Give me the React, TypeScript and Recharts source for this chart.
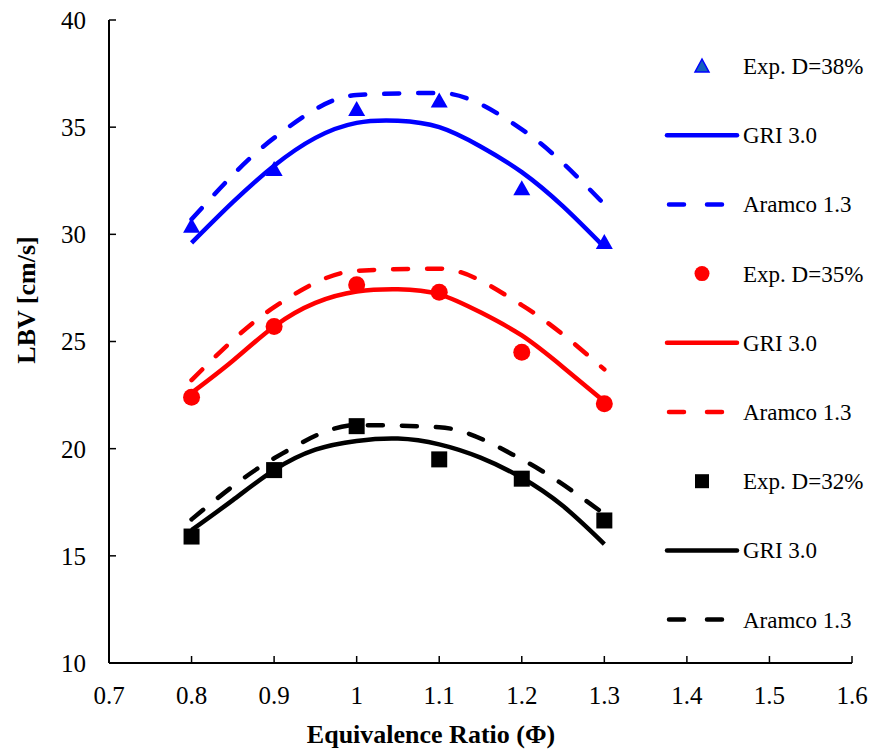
import React from "react";
import { ComposedChart, Line, Scatter, XAxis, YAxis, Legend } from "recharts";

// equivalence ratio points
const phiExp = [0.8, 0.9, 1.0, 1.1, 1.2, 1.3];
const phiGri = [0.8, 0.85, 0.9, 0.95, 1.0, 1.05, 1.1, 1.15, 1.2, 1.25, 1.3];
const phiAramco = [0.8, 0.9, 1.0, 1.1, 1.2, 1.3];

// D = 38%
const exp38 = [30.35, 33.0, 35.8, 36.2, 32.1, 29.6];
const gri38 = [29.6, 31.5, 33.2, 34.5, 35.2, 35.3, 35.0, 34.1, 32.9, 31.3, 29.4];
const aramco38 = [30.7, 34.5, 36.5, 36.6, 34.9, 31.4];

// D = 35%
const exp35 = [22.4, 25.7, 27.65, 27.3, 24.5, 22.1];
const gri35 = [22.6, 24.1, 25.7, 26.8, 27.33, 27.44, 27.2, 26.36, 25.28, 23.8, 22.2];
const aramco35 = [23.2, 26.6, 28.3, 28.4, 26.7, 23.7];

// D = 32%
const exp32 = [15.9, 19.0, 21.05, 19.5, 18.6, 16.65];
const gri32 = [16.2, 17.6, 19.0, 19.95, 20.36, 20.47, 20.2, 19.58, 18.64, 17.32, 15.55];
const aramco32 = [16.7, 19.55, 21.1, 21.0, 19.5, 16.95];

const xTicks = [0.7, 0.8, 0.9, 1.0, 1.1, 1.2, 1.3, 1.4, 1.5, 1.6];
const yTicks = [10, 15, 20, 25, 30, 35, 40];

const legendLabels = [
  "Exp. D=38%", "GRI 3.0", "Aramco 1.3",
  "Exp. D=35%", "GRI 3.0", "Aramco 1.3",
  "Exp. D=32%", "GRI 3.0", "Aramco 1.3",
];

const toPts = (xs: number[], ys: number[]) => xs.map((x, i) => ({ x, y: ys[i] }));

const FONT = "'Liberation Serif', 'Times New Roman', serif";
const BLUE = "#0000FF";
const RED = "#FF0000";
const BLACK = "#000000";
const DASH = "15 19";

const Triangle = (p: any) => (
  <polygon points={`${p.cx},${p.cy - 9} ${p.cx - 8.5},${p.cy + 6} ${p.cx + 8.5},${p.cy + 6}`} fill={BLUE} />
);
const Circle = (p: any) => <circle cx={p.cx} cy={p.cy} r={8.5} fill={RED} />;
const Square = (p: any) => <rect x={p.cx - 8} y={p.cy - 8} width={16} height={16} fill={BLACK} />;

const legendKinds = ["tri", "solid", "dash", "circle", "solid", "dash", "square", "solid", "dash"];
const legendColors = [BLUE, BLUE, BLUE, RED, RED, RED, BLACK, BLACK, BLACK];

const renderLegend = () => (
  <svg width={215} height={640}>
    {legendLabels.map((label, i) => {
      const cy = 36 + i * 69.2;
      const c = legendColors[i];
      const k = legendKinds[i];
      let mark = null;
      if (k === "tri")
        mark = <polygon points={`47,${cy - 7} 40,${cy + 6} 54,${cy + 6}`} fill="#1560BD" stroke={BLUE} strokeWidth={1.5} />;
      else if (k === "circle") mark = <circle cx={47} cy={cy} r={7.5} fill={RED} />;
      else if (k === "square") mark = <rect x={40} y={cy - 7} width={14} height={14} fill={BLACK} />;
      else if (k === "solid")
        mark = <line x1={12} x2={82} y1={cy} y2={cy} stroke={c} strokeWidth={4.5} strokeLinecap="round" />;
      else
        mark = <line x1={14} x2={72} y1={cy} y2={cy} stroke={c} strokeWidth={4.5} strokeLinecap="round" strokeDasharray="15 23" />;
      return (
        <g key={i}>
          {mark}
          <text x={88} y={cy + 8} fontFamily={FONT} fontSize={23} fill="#000">{label}</text>
        </g>
      );
    })}
  </svg>
);

export default function App() {
  const griProps = { type: "natural" as const, dataKey: "y", dot: false, activeDot: false, isAnimationActive: false, strokeWidth: 4.5 };
  const aramcoProps = { ...griProps, type: "monotone" as const, strokeDasharray: DASH, strokeLinecap: "round" as const };
  return (
    <div style={{ position: "absolute", left: 0, top: 0, background: "#fff" }}>
      <ComposedChart width={870} height={752} margin={{ top: 20, right: 18, bottom: 0, left: 0 }}>
        <XAxis
          type="number"
          dataKey="x"
          domain={[0.7, 1.6]}
          ticks={xTicks}
          height={89}
          tickSize={-7}
          tickMargin={30}
          axisLine={{ stroke: "#000", strokeWidth: 2 }}
          tickLine={{ stroke: "#000", strokeWidth: 1.5 }}
          tick={{ fontFamily: FONT, fontSize: 25, fill: "#000" }}
          allowDataOverflow
          label={{
            content: () => (
              <text x={431} y={743} textAnchor="middle" fontFamily={FONT} fontWeight="bold" fontSize={26} fill="#000">
                Equivalence Ratio (Φ)
              </text>
            ),
          }}
        />
        <YAxis
          type="number"
          dataKey="y"
          domain={[10, 40]}
          ticks={yTicks}
          width={109}
          tickSize={-7}
          tickMargin={30}
          axisLine={{ stroke: "#000", strokeWidth: 2 }}
          tickLine={{ stroke: "#000", strokeWidth: 1.5 }}
          tick={{ fontFamily: FONT, fontSize: 25, fill: "#000" }}
          allowDataOverflow
          label={{
            content: () => (
              <text x={35} y={300} transform="rotate(-90 35 300)" textAnchor="middle" fontFamily={FONT} fontWeight="bold" fontSize={26} fill="#000">
                LBV [cm/s]
              </text>
            ),
          }}
        />
        <Legend
          layout="vertical"
          align="center"
          verticalAlign="middle"
          content={renderLegend}
          wrapperStyle={{ left: 655, top: 30, width: 215, height: 640 }}
        />

        <Line {...griProps} data={toPts(phiGri, gri38)} stroke={BLUE} />
        <Line {...aramcoProps} data={toPts(phiAramco, aramco38)} stroke={BLUE} />
        <Line {...griProps} data={toPts(phiGri, gri35)} stroke={RED} />
        <Line {...aramcoProps} data={toPts(phiAramco, aramco35)} stroke={RED} />
        <Line {...griProps} data={toPts(phiGri, gri32)} stroke={BLACK} />
        <Line {...aramcoProps} data={toPts(phiAramco, aramco32)} stroke={BLACK} />

        <Scatter data={toPts(phiExp, exp38)} shape={Triangle} isAnimationActive={false} />
        <Scatter data={toPts(phiExp, exp35)} shape={Circle} isAnimationActive={false} />
        <Scatter data={toPts(phiExp, exp32)} shape={Square} isAnimationActive={false} />
      </ComposedChart>
    </div>
  );
}
